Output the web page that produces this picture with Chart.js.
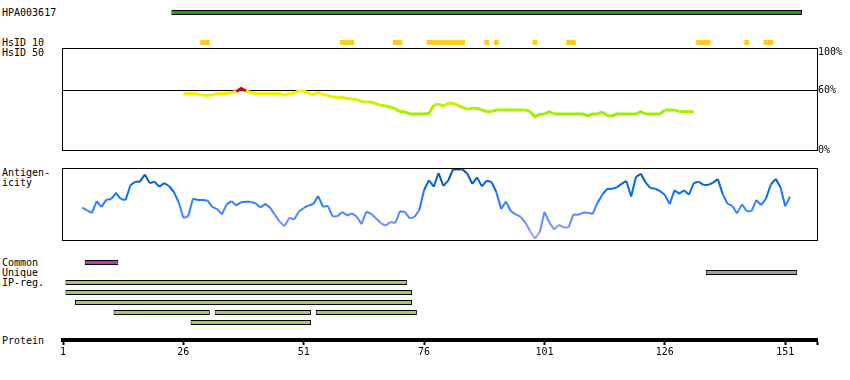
<!DOCTYPE html>
<html>
<head>
<meta charset="utf-8">
<script src="https://cdn.jsdelivr.net/npm/chart.js@4/dist/chart.umd.min.js"></script>
<style>
  body { margin: 0; background: #fff; }
  #page { position: relative; width: 850px; height: 380px; overflow: hidden; font: 10px "DejaVu Sans Mono", monospace; color: #000; }
  #page canvas { position: absolute; left: 0; }
  .lbl { position: absolute; left: 2px; line-height: 10px; white-space: pre; }
</style>
</head>
<body>
<div id="page">
  <div class="lbl" style="top:8px">HPA003617</div>
  <div class="lbl" style="top:38px">HsID 10</div>
  <div class="lbl" style="top:48px">HsID 50</div>
  <div class="lbl" style="top:168px">Antigen-
icity</div>
  <div class="lbl" style="top:258px">Common
Unique
IP-reg.</div>
  <div class="lbl" style="top:336px">Protein</div>

  <canvas id="topTracks" width="850" height="61" style="top:-3px"></canvas>
  <canvas id="hsid50" width="850" height="110" style="top:46px"></canvas>
  <canvas id="antigen" width="850" height="76" style="top:166px"></canvas>
  <canvas id="lowTracks" width="850" height="75" style="top:255px"></canvas>
  <canvas id="protAxis" width="850" height="50" style="top:320px"></canvas>
</div>

<script>
// residue axis
var xMin = 1, xMax = 157.6
var axisTicks = [1, 26, 51, 76, 101, 126, 151]

// feature ranges, [first residue, last residue]
var antibody = [[24, 154]]
var hsid10 = [[30, 31], [59, 61], [70, 71], [77, 84], [89, 89], [91, 91], [99, 99], [106, 107], [133, 135], [143, 143], [147, 148]]
var common = [[6, 12]]
var unique = [[135, 153]]
var ipReg = [
  [[2, 72]],
  [[2, 73]],
  [[4, 73]],
  [[12, 31], [33, 52], [54, 74]],
  [[28, 52]]
]

// HsID 50 identity (%), residues 26..132
var hsidStart = 26
var hsid50 = [
  56.6, 56.6, 56.6, 55.9, 54.7, 54.7, 54.9, 56.6, 56.6, 56.6,
  57.5, 58.5, 61.5, 59, 57.5, 56.6, 56.6, 56.6, 56.6, 56.6,
  56.6, 54.9, 56.6, 57, 59, 59, 57, 55.4, 57.5, 55.4,
  54.7, 52.9, 52.7, 52.7, 51.4, 50.9, 50.3, 48.3, 48, 48,
  46.3, 44.7, 44, 42.7, 41.2, 38.3, 38.3, 36, 36, 36,
  36, 36.6, 44.7, 45.8, 44, 46.7, 46.7, 44.7, 42.7, 40.7,
  41.7, 41.7, 40.2, 38.3, 38.6, 40, 40, 40, 40, 40,
  40, 40, 38.6, 33.4, 35.6, 36, 38.3, 36, 36, 36,
  36, 36, 36, 36, 34.1, 36, 36, 38.1, 34.6, 34.1,
  36, 36, 36, 36, 36, 38.3, 36, 36, 36, 36,
  40, 40, 40, 38.6, 38.3, 38.3, 38.3
]
var hsidMax = 102
var hsidTicks = [0, 60, 100]
var hsidRef = 60

// antigenicity score (0..100), residues 5..152
var antigenStart = 5
var antigenicity = [
  45, 41, 37.5, 54, 46, 56, 57, 65, 57, 55.5,
  76, 81, 81, 91, 79, 81, 74, 79, 75, 67,
  53, 30.5, 33, 57.5, 55.5, 55.5, 55, 46, 43, 35.5,
  49.5, 54, 48, 52.5, 53, 53, 51, 45, 50, 45,
  35, 25.5, 19, 31, 28.5, 39.5, 44.5, 48, 50, 61,
  46, 47.5, 32.5, 33, 39, 34, 37, 32.5, 22, 39.5,
  36.5, 30, 23.5, 20, 25, 23.5, 40, 39, 30, 32,
  41.5, 69.5, 83, 74, 93, 75, 82.5, 98, 98, 98,
  92, 78, 87, 74.5, 82.5, 80.5, 66.5, 43, 53.5, 40,
  35.5, 32.5, 24.5, 12.5, 2, 10.5, 39, 24.5, 14.5, 21,
  17.5, 17.5, 35.5, 35, 38, 38, 36, 51.5, 63, 71,
  71, 73, 78, 82, 60.5, 87.5, 92, 80, 72, 71.5,
  68, 62.5, 50, 69, 64.5, 69, 63, 79, 81, 76.5,
  76.5, 79.5, 84.5, 64, 50.5, 47.5, 37, 49.5, 40, 40,
  55.5, 48.5, 57.5, 77, 85, 73.5, 47, 60
]

var trackStyle = {
  antibody: { fill: '#20a010', border: 1 },
  hsid10: { fill: '#ffcc22', border: 0 },
  common: { fill: '#cc33aa', border: 1 },
  unique: { fill: '#a0a0a0', border: 1 },
  ipreg: { fill: '#a5c862', border: 1 }
}

var monoFont = { family: 'DejaVu Sans Mono', size: 10, lineHeight: 1 }

function toBars(ranges, row, kind) {
  return ranges.map(function (r) {
    return { x: [r[0] - 0.5, r[1] + 0.5], y: row, kind: kind }
  })
}

function toPoints(start, values) {
  return values.map(function (v, i) { return { x: start + i, y: v } })
}

function mix(stops, v) {
  for (var i = 1; i < stops.length; i++) {
    if (v <= stops[i][0] || i == stops.length - 1) {
      var a = stops[i - 1], b = stops[i]
      var t = Math.max(0, Math.min(1, (v - a[0]) / (b[0] - a[0])))
      var c = a[1].map(function (k, j) { return Math.round(k + (b[1][j] - k) * t) })
      return 'rgb(' + c.join(',') + ')'
    }
  }
}

function hsidColor(v) {
  if (v >= hsidRef) return '#e00000'
  return mix([[36, [150, 240, 0]], [56, [245, 240, 0]]], v)
}

var antigenStops = [[0, [180, 160, 255]], [25, [110, 140, 255]], [45, [60, 130, 255]], [70, [0, 110, 235]], [100, [0, 75, 160]]]

var framePlugin = {
  id: 'frame',
  afterDraw(chart) {
    var a = chart.chartArea, ctx = chart.ctx
    ctx.save()
    ctx.strokeStyle = '#000'
    ctx.lineWidth = 1
    ctx.strokeRect(a.left - 0.5, a.top + 0.5, a.right - a.left + 1, a.bottom - a.top)
    ctx.restore()
  }
}

function baseOptions(pad) {
  return {
    responsive: false,
    animation: false,
    events: [],
    layout: { padding: pad },
    plugins: { legend: { display: false }, tooltip: { enabled: false } },
    scales: {
      x: { type: 'linear', min: xMin, max: xMax, offset: false, display: false }
    }
  }
}

function trackChart(id, bars, rows, pad) {
  var opts = baseOptions(pad)
  opts.indexAxis = 'y'
  opts.scales.y = { type: 'linear', min: -0.5, max: rows - 0.5, offset: false, reverse: true, display: false }
  return new Chart(document.getElementById(id), {
    type: 'bar',
    data: {
      datasets: [{
        data: bars,
        backgroundColor: c => c.raw ? trackStyle[c.raw.kind].fill : '#000',
        borderWidth: c => c.raw ? trackStyle[c.raw.kind].border : 0,
        borderColor: '#000',
        borderSkipped: false,
        barThickness: 5,
        inflateAmount: 0
      }]
    },
    options: opts
  })
}

// top tracks: antibody + HsID 10
trackChart('topTracks',
  toBars(antibody, 0, 'antibody').concat(toBars(hsid10, 1, 'hsid10')),
  2, { left: 63, right: 33, top: 0.5, bottom: 0.5 })

// HsID 50 panel
var hsOpts = baseOptions({ left: 63, right: 0, top: 2, bottom: 6 })
hsOpts.scales.y = {
  type: 'linear', min: 0, max: hsidMax, position: 'right',
  afterFit: s => { s.width = 33; s.paddingTop = 0; s.paddingBottom = 0 },
  afterBuildTicks: s => { s.ticks = hsidTicks.map(v => ({ value: v })) },
  border: { display: false },
  grid: { drawTicks: false, color: c => c.tick && c.tick.value === hsidRef ? '#000' : 'rgba(0,0,0,0)' },
  ticks: {
    padding: 1, color: '#000',
    font: { family: 'DejaVu Sans Mono', size: 10, lineHeight: 0.55 },
    callback: v => v === 100 ? ['', v + '%'] : v + '%'
  }
}
new Chart(document.getElementById('hsid50'), {
  type: 'line',
  data: {
    datasets: [{
      data: toPoints(hsidStart, hsid50),
      borderColor: '#f5f000',
      borderWidth: 3,
      pointRadius: 0,
      tension: 0,
      segment: { borderColor: c => hsidColor(Math.max(c.p0.parsed.y, c.p1.parsed.y) >= hsidRef ? hsidRef : (c.p0.parsed.y + c.p1.parsed.y) / 2) }
    }]
  },
  options: hsOpts,
  plugins: [framePlugin]
})

// antigenicity panel
var agOpts = baseOptions({ left: 63, right: 33, top: 2, bottom: 2 })
agOpts.scales.y = { type: 'linear', min: 0, max: 100, display: false }
new Chart(document.getElementById('antigen'), {
  type: 'line',
  data: {
    datasets: [{
      data: toPoints(antigenStart, antigenicity),
      borderColor: '#3f82ff',
      borderWidth: 2,
      pointRadius: 0,
      tension: 0,
      segment: { borderColor: c => mix(antigenStops, (c.p0.parsed.y + c.p1.parsed.y) / 2) }
    }]
  },
  options: agOpts,
  plugins: [framePlugin]
})

// lower tracks: common, unique, IP-reg rows
var lowBars = toBars(common, 0, 'common').concat(toBars(unique, 1, 'unique'))
ipReg.forEach(function (row, i) { lowBars = lowBars.concat(toBars(row, 2 + i, 'ipreg')) })
trackChart('lowTracks', lowBars, 7, { left: 63, right: 33, top: 2.5, bottom: 2.5 })

// protein axis
var axOpts = baseOptions({ left: 63, right: 33, top: 0, bottom: 0 })
axOpts.scales.y = { display: false }
axOpts.scales.x = {
  type: 'linear', min: xMin, max: xMax, position: 'bottom',
  afterFit: s => { s.height = 30 },
  afterBuildTicks: s => { s.ticks = axisTicks.concat([xMax]).map(v => ({ value: v })) },
  border: { display: true, color: '#000', width: 4 },
  grid: { drawOnChartArea: false, drawTicks: true, tickLength: 5, tickWidth: 2, tickColor: '#000', color: '#000' },
  ticks: {
    autoSkip: false, maxRotation: 0, padding: 2, color: '#000', font: monoFont,
    callback: v => axisTicks.indexOf(v) >= 0 ? String(v) : ''
  }
}
new Chart(document.getElementById('protAxis'), {
  type: 'line',
  data: { datasets: [] },
  options: axOpts
})
</script>
</body>
</html>
